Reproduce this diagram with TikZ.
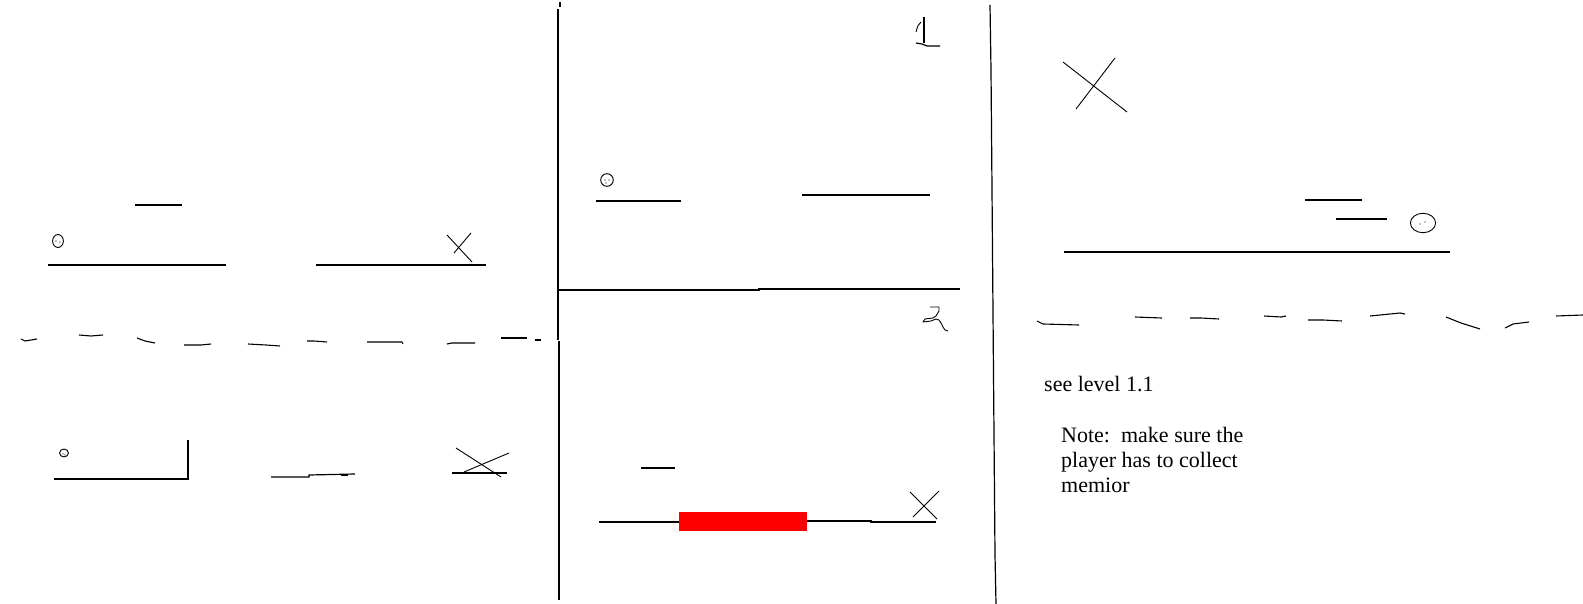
\documentclass[tikz,border=0pt]{standalone}
\usepackage{fontspec}
\setmainfont{Liberation Serif}
\begin{document}
\begin{tikzpicture}[x=1bp,y=-1bp,
  ln/.style={line width=1.2bp,black},
  thin/.style={line width=0.9bp,black},
  dsh/.style={line width=1.1bp,black,line join=round},
  face/.style={line width=0.9bp,black},
  dotf/.style={fill=black},
  txt/.style={font=\fontsize{22bp}{25bp}\selectfont,anchor=base west,inner sep=0pt}]
\useasboundingbox[fill=white] (0,0) rectangle (1583,604);

% ---------- dividers ----------
\draw[ln] (560,2) -- (560,7);
\draw[ln] (558,9) -- (558,340);
\draw[ln] (559,341) -- (559,600);
\draw[ln] (559,290) -- (759,290) -- (759,289) -- (960,289);
\draw[ln] (990,5) -- (991,70) -- (992,190) -- (993,313) -- (994,435) -- (995,555) -- (996,604);

% ---------- panel A, top ----------
\draw[ln] (135,205) -- (182,205);
\draw[face] (58,241) ellipse [x radius=5.4, y radius=6.5];
\fill[dotf] (56,241) circle (0.7) (60,242) circle (0.7);
\draw[ln] (48,265) -- (226,265);
\draw[ln] (316,265) -- (486,265);
\draw[thin] (447,235) -- (472,262);
\draw[thin] (471,233) -- (454,253);

% dashed ground A
\draw[dsh] (21,339) -- (25,341) -- (37,339);
\draw[dsh] (79,335) -- (91,336) -- (103,335);
\draw[dsh] (137,338) -- (145,341) -- (155,343);
\draw[dsh] (184,345) -- (201,345) -- (211,344);
\draw[dsh] (248,344) -- (266,345) -- (280,346);
\draw[dsh] (307,341) -- (314,341) -- (327,342);
\draw[dsh] (367,342) -- (402,342) -- (403,344);
\draw[dsh] (447,344) -- (452,343) -- (475,343);
\draw[dsh] (501,338) -- (527,338);
\draw[dsh] (535,340) -- (541,340);

% ---------- panel A, bottom ----------
\draw[face] (64,453) ellipse [x radius=4.4, y radius=4];
\fill[dotf] (63,454) circle (0.6) (65,455) circle (0.6);
\draw[ln] (54,479) -- (188,479) (188,440) -- (188,480);
\draw[ln] (271,477) -- (309,477) -- (309,475) -- (355,474);
\draw[line width=2.2bp] (341,475) -- (348,475);
\draw[thin] (456,448) -- (501,477);
\draw[thin] (464,472) -- (509,453);
\draw[ln] (452,473) -- (507,473);

% ---------- panel B, level 1 ----------
\draw[thin,line join=round] (921,22) .. controls (918,25) .. (916,32);
\draw[ln] (924,17) -- (924,43);
\draw[ln] (916,43) -- (922,44) -- (927,46) -- (940,46);
\draw[face] (607,180) circle (6.3);
\fill[dotf] (605,180) circle (0.7) (609,180) circle (0.7) (606,183) circle (0.6);
\draw[ln] (596,201) -- (681,201);
\draw[ln] (802,195) -- (930,195);

% ---------- panel B, level 2 ----------
\draw[thin,line join=round] (930,307) -- (939,307) -- (939,311) -- (936,316) -- (933,318)
   -- (925,319) -- (923,322) -- (931,321) -- (936,319) -- (939,320) -- (941,323)
   -- (943,327) -- (945,330) -- (948,331);
\draw[ln] (641,468) -- (675,468);
\draw[ln] (599,522) -- (679,522);
\fill[red] (679,512) rectangle (807,531);
\draw[ln] (807,521) -- (871,521) -- (871,522) -- (936,522);
\draw[thin] (910,492) -- (937,519);
\draw[thin] (939,491) -- (913,517);

% ---------- panel C ----------
\draw[thin] (1063,62) -- (1127,112);
\draw[thin] (1115,58) -- (1076,109);
\draw[ln] (1305,200) -- (1362,200);
\draw[ln] (1336,219) -- (1387,219);
\draw[face] (1423,223) ellipse [x radius=12.6, y radius=9.7];
\fill[dotf] (1420,224) circle (0.7) (1425,222) circle (0.7);
\draw[ln] (1064,252) -- (1450,252);

\draw[dsh] (1037,321) -- (1043,324) -- (1079,325);
\draw[dsh] (1135,317) -- (1162,318);
\draw[dsh] (1190,318) -- (1201,318) -- (1219,319);
\draw[dsh] (1264,316) -- (1281,317) -- (1286,316);
\draw[dsh] (1308,320) -- (1323,320) -- (1342,321);
\draw[dsh] (1370,316) -- (1400,313) -- (1405,314);
\draw[dsh] (1446,317) -- (1461,323) -- (1480,329);
\draw[dsh] (1505,328) -- (1513,324) -- (1529,322);
\draw[dsh] (1556,316) -- (1583,315);

\node[txt] (see) at (1044,391) {see level 1.1};
\node[txt] (note1) at (1061,442) {Note:\ \ make sure the};
\node[txt] (note2) at (1061,467) {player has to collect};
\node[txt] (note3) at (1061,492) {memior};
\end{tikzpicture}
\end{document}
